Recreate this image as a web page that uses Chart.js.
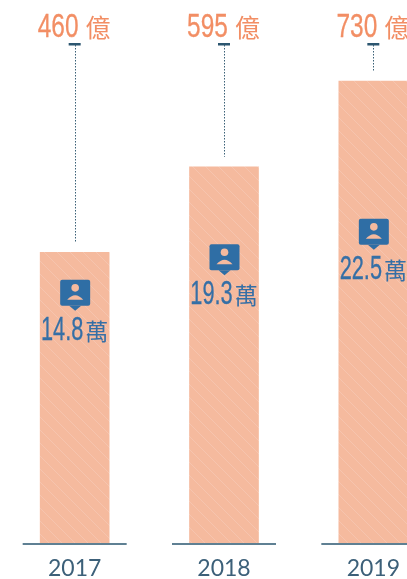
<!DOCTYPE html>
<html><head><meta charset="utf-8">
<style>html,body{margin:0;padding:0;background:#fff;overflow:hidden;width:407px;height:579px}canvas{display:block}</style>
<script src="https://cdn.jsdelivr.net/npm/chart.js@4"></script></head>
<body><canvas id="c" width="448" height="579"></canvas>
<script>
const categories = ['2017','2018','2019'];
const amounts = [460,595,730];
const people = [14.8,19.3,22.5];
const amountUnit = '億';
const peopleUnit = '萬';

function hatch(){
  const s=13, p=document.createElement('canvas'); p.width=s; p.height=s;
  const g=p.getContext('2d');
  g.fillStyle='#f5ba9e'; g.fillRect(0,0,s,s);
  g.strokeStyle='#f7c9b4'; g.lineWidth=0.7;
  g.beginPath(); g.moveTo(-2,-2); g.lineTo(s+2,s+2); g.stroke();
  return g.createPattern(p,'repeat');
}
function squeezed(ctx,text,x,y,font,sx,color,bold){
  ctx.save(); ctx.translate(x,y); ctx.scale(sx,1);
  ctx.font=font; ctx.fillStyle=color; ctx.textAlign='left'; ctx.textBaseline='alphabetic';
  ctx.fillText(text,0,0);
  if(bold){ctx.strokeStyle=color;ctx.lineWidth=bold;ctx.strokeText(text,0,0);}
  ctx.restore();
}
function widthOf(ctx,text,font,sx){ctx.save();ctx.font=font;const w=ctx.measureText(text).width*sx;ctx.restore();return w;}
function pair(ctx,num,unit,cx,y,numFont,uniFont,sx,color,gap,bold){
  const a=widthOf(ctx,num,numFont,sx), b=widthOf(ctx,unit,uniFont,1);
  const l=cx-(a+gap+b)/2;
  squeezed(ctx,num,l,y,numFont,sx,color,bold);
  squeezed(ctx,unit,l+a+gap,y,uniFont,1,color,0);
}
function icon(ctx,cx,top){
  const c='#2f6ea5';
  ctx.fillStyle=c; ctx.beginPath();
  ctx.roundRect(cx-15,top,30,26,2); ctx.fill();
  ctx.beginPath(); ctx.moveTo(cx-6,top+26); ctx.lineTo(cx,top+31); ctx.lineTo(cx+6,top+26); ctx.closePath(); ctx.fill();
  ctx.fillStyle='#f5ba9e';
  ctx.beginPath(); ctx.arc(cx,top+8,3.8,0,Math.PI*2); ctx.fill();
  ctx.beginPath(); ctx.moveTo(cx-8,top+20); ctx.quadraticCurveTo(cx,top+11,cx+8,top+20); ctx.closePath(); ctx.fill();
}
const decor={id:'decor',
  afterDatasetsDraw(ch){
    const ctx=ch.ctx,x=ch.scales.x,y=ch.scales.y,y1=ch.scales.y1;
    const base=y.getPixelForValue(0), capY=44;
    categories.forEach((cat,i)=>{
      const cx=x.getPixelForValue(i), top=y.getPixelForValue(amounts[i]);
      ctx.fillStyle='#5f8093'; ctx.fillRect(cx-52,base-1,104,2);
      ctx.fillStyle='#2c5670'; ctx.fillRect(cx-6,capY-1,12,2.5);
      ctx.save(); ctx.strokeStyle='#3a6076'; ctx.lineWidth=1; ctx.setLineDash([1.5,1.5]);
      ctx.beginPath(); ctx.moveTo(Math.round(cx)+.5,capY+1); ctx.lineTo(Math.round(cx)+.5,top-10); ctx.stroke(); ctx.restore();
      pair(ctx,String(amounts[i]),amountUnit,cx-0.5,37,'34px "Liberation Sans Narrow","Liberation Sans"','25px "Noto Sans CJK TC"',0.72,'#f28e64',7,0.3);
      const py=y1.getPixelForValue(people[i]);
      icon(ctx,cx+0.5,py-48);
      pair(ctx,people[i].toFixed(1),peopleUnit,cx,py+12,'33px "Liberation Sans Narrow","Liberation Sans"','23px "Noto Sans CJK TC"',0.66,'#356fa6',2,0.3);
    });
  }};
new Chart(document.getElementById('c'),{
  type:'bar',
  data:{labels:categories,datasets:[
    {type:'bar',data:amounts,yAxisID:'y',backgroundColor:hatch(),barThickness:69,borderWidth:0},
    {type:'line',data:people,yAxisID:'y1',showLine:false,pointRadius:0,pointHoverRadius:0}
  ]},
  options:{responsive:false,animation:false,
    layout:{padding:0},
    plugins:{legend:{display:false},tooltip:{enabled:false}},
    scales:{
      x:{grid:{display:false},border:{display:false},
        afterFit(s){s.height=35;},
        ticks:{padding:3,color:'#3c6079',font:{family:'Lato',size:23},maxRotation:0}},
      y:{display:false,min:0,max:858},
      y1:{display:false,min:-12.5,max:56.2}
    }}
  ,plugins:[decor]
});
</script></body></html>
